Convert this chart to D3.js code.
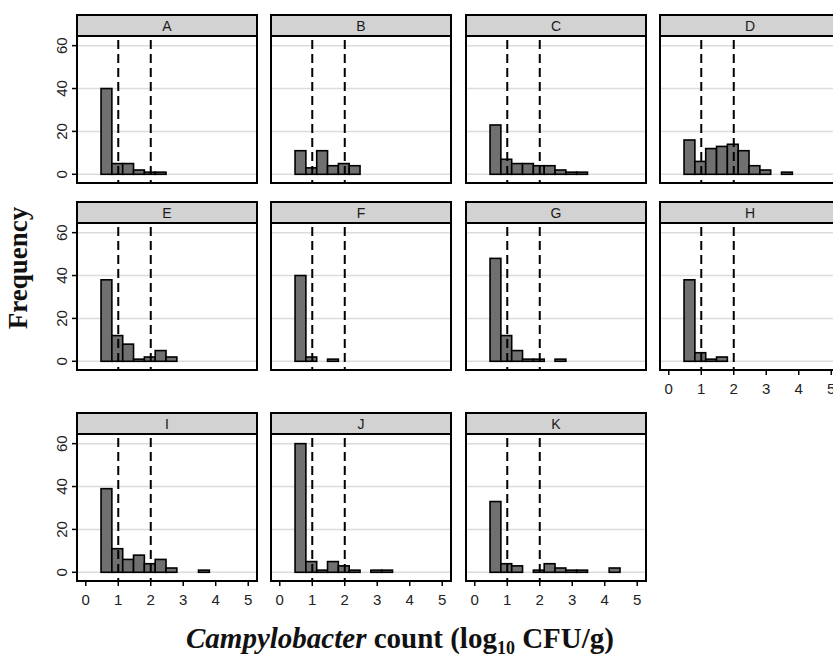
<!DOCTYPE html>
<html lang="en">
<head>
<meta charset="UTF-8">
<title>Campylobacter count histograms</title>
<script src="https://d3js.org/d3.v7.min.js"></script>
<style>
  body { margin: 0; background: #fff; }
  svg { display: block; }
</style>
</head>
<body>
<svg width="833" height="658"></svg>
<script>
  // facet names and bin counts (bins of 1/3 log, starting at 0.47)
  const panels = ["A", "B", "C", "D", "E", "F", "G", "H", "I", "J", "K"];
  const binStart = 0.47;
  const binWidth = 1 / 3;
  const counts = [
    [40, 5, 5, 2, 1, 1],
    [11, 3, 11, 4, 5, 4],
    [23, 7, 5, 5, 4, 4, 2, 1, 1],
    [16, 6, 12, 13, 14, 11, 4, 2, 0, 1],
    [38, 12, 8, 1, 2, 5, 2],
    [40, 2, 0, 1],
    [48, 12, 5, 1, 1, 0, 1],
    [38, 4, 1, 2],
    [39, 11, 6, 8, 4, 6, 2, 0, 0, 1],
    [60, 5, 1, 5, 3, 1, 0, 1, 1],
    [33, 4, 3, 0, 1, 4, 2, 1, 1, 0, 0, 2]
  ];
  const cutoffs = [1, 2];
  const xTicks = [0, 1, 2, 3, 4, 5];
  const yTicks = [0, 20, 40, 60];

  const svg = d3.select("svg");

  // layout
  const colLeft = [77, 271, 466, 660];
  const rowTop = [15, 202, 413];   // strip tops
  const stripH = 21;
  const panelW = 180, plotH = 147;

  const x = d3.scaleLinear().domain([-0.27, 5.27]).range([0, panelW]);
  const y = d3.scaleLinear().domain([-4.06, 64.5]).range([plotH, 0]);

  const sans = "Liberation Sans, Arial, sans-serif";

  panels.forEach((name, i) => {
    const col = i % 4, row = Math.floor(i / 4);
    const g = svg.append("g")
      .attr("transform", `translate(${colLeft[col]},${rowTop[row]})`);

    // strip
    g.append("rect")
      .attr("x", 0).attr("y", 0)
      .attr("width", panelW).attr("height", stripH)
      .attr("fill", "#d2d2d2")
      .attr("stroke", "#000").attr("stroke-width", 2);
    g.append("text")
      .attr("x", panelW / 2).attr("y", stripH / 2 + 5)
      .attr("text-anchor", "middle")
      .attr("font-family", sans)
      .attr("font-size", 14)
      .attr("fill", "#1a1a1a")
      .text(name);

    const p = g.append("g").attr("transform", `translate(0,${stripH})`);

    p.append("rect")
      .attr("width", panelW).attr("height", plotH)
      .attr("fill", "#fff");

    // horizontal grid
    p.selectAll(".grid").data(yTicks).enter().append("line")
      .attr("x1", 0).attr("x2", panelW)
      .attr("y1", d => y(d)).attr("y2", d => y(d))
      .attr("stroke", "#dcdcdc").attr("stroke-width", 1.5);

    // bars (empty bins not drawn)
    const bins = counts[i].map((c, k) => ({
      x0: binStart + k * binWidth,
      x1: binStart + (k + 1) * binWidth,
      c: c
    })).filter(d => d.c > 0);

    p.selectAll(".bar").data(bins).enter().append("rect")
      .attr("x", d => x(d.x0))
      .attr("width", d => x(d.x1) - x(d.x0))
      .attr("y", d => y(d.c))
      .attr("height", d => y(0) - y(d.c))
      .attr("fill", "#707070")
      .attr("stroke", "#000").attr("stroke-width", 1.6);

    // cut-off lines
    p.selectAll(".cut").data(cutoffs).enter().append("line")
      .attr("x1", d => x(d)).attr("x2", d => x(d))
      .attr("y1", 4).attr("y2", plotH)
      .attr("stroke", "#000").attr("stroke-width", 2)
      .attr("stroke-dasharray", "9,5");

    // panel border
    p.append("rect")
      .attr("width", panelW).attr("height", plotH)
      .attr("fill", "none")
      .attr("stroke", "#000").attr("stroke-width", 2);

    // y axis on first column
    if (col === 0) {
      const ya = p.append("g");
      ya.selectAll("line").data(yTicks).enter().append("line")
        .attr("x1", -5).attr("x2", 0)
        .attr("y1", d => y(d)).attr("y2", d => y(d))
        .attr("stroke", "#000").attr("stroke-width", 1.5);
      ya.selectAll("text").data(yTicks).enter().append("text")
        .attr("transform", d => `translate(-10,${y(d)}) rotate(-90)`)
        .attr("text-anchor", "middle")
        .attr("font-family", sans)
        .attr("font-size", 15)
        .attr("fill", "#222")
        .text(d => d);
    }

    // x axis on bottom panels of each column
    if (row === 2 || i === 7) {
      const xa = p.append("g").attr("transform", `translate(0,${plotH})`);
      xa.selectAll("line").data(xTicks).enter().append("line")
        .attr("x1", d => x(d)).attr("x2", d => x(d))
        .attr("y1", 0).attr("y2", 5)
        .attr("stroke", "#000").attr("stroke-width", 1.5);
      xa.selectAll("text").data(xTicks).enter().append("text")
        .attr("x", d => x(d)).attr("y", 24)
        .attr("text-anchor", "middle")
        .attr("font-family", sans)
        .attr("font-size", 15)
        .attr("fill", "#222")
        .text(d => d);
    }
  });

  // axis titles
  svg.append("text")
    .attr("transform", "translate(27,268) rotate(-90)")
    .attr("text-anchor", "middle")
    .attr("font-family", "Liberation Serif, Times New Roman, serif")
    .attr("font-weight", "bold")
    .attr("font-size", 27)
    .attr("fill", "#111")
    .text("Frequency");

  const xt = svg.append("text")
    .attr("x", 400).attr("y", 648)
    .attr("text-anchor", "middle")
    .attr("font-family", "Liberation Serif, Times New Roman, serif")
    .attr("font-weight", "bold")
    .attr("font-size", 29)
    .attr("fill", "#111");
  xt.append("tspan").attr("font-style", "italic").text("Campylobacter");
  xt.append("tspan").text(" count (log");
  xt.append("tspan").attr("font-size", 18).attr("dy", 6).text("10");
  xt.append("tspan").attr("dy", -6).text(" CFU/g)");
</script>
</body>
</html>
